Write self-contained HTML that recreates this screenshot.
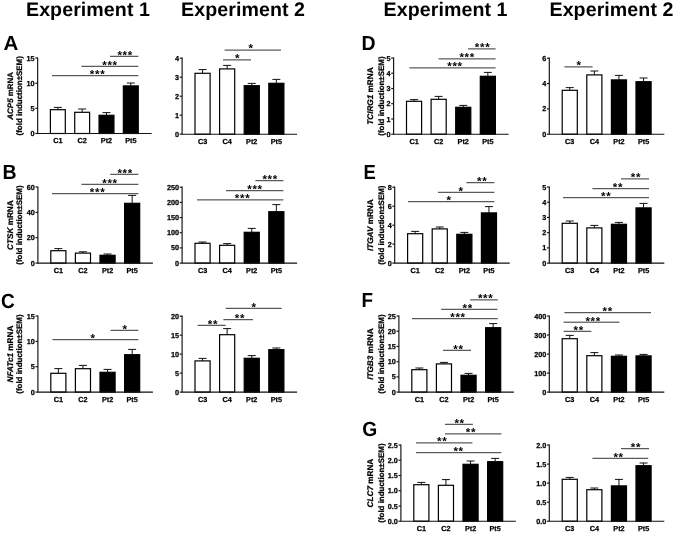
<!DOCTYPE html>
<html><head><meta charset="utf-8"><title>Figure</title>
<style>
html,body{margin:0;padding:0;background:#fff}
svg{display:block;filter:grayscale(1) blur(.35px)}
text{font-family:"Liberation Sans", sans-serif;font-weight:bold;fill:#000;text-rendering:geometricPrecision}
.t{font-size:7.25px;stroke:#000;stroke-width:.25px}
.yt{font-size:7.95px;stroke:#000;stroke-width:.25px}
.i{font-style:italic}
.e{text-anchor:end}
.m{text-anchor:middle}
.st{font-size:11.5px;letter-spacing:.7px}
.pl{font-size:20.5px}
.hd{font-size:19.6px;letter-spacing:.08px}
.ax{stroke:#111;stroke-width:1.15;fill:none}
.er{stroke:#111;stroke-width:1;fill:none}
.sg{stroke:#333;stroke-width:1;fill:none}
.bar{stroke:#000;stroke-width:1.2}
</style></head>
<body>
<svg width="675" height="533" viewBox="0 0 675 533">
<rect width="675" height="533" fill="#fff"/>
<path d="M57.85 109.7V107.4M53.85 107.4H61.85" class="er"/>
<rect x="50.40" y="109.7" width="14.9" height="23.8" fill="#fff" class="bar"/>
<text x="57.85" y="143.1" class="t m">C1</text>
<path d="M82.17 112.3V109.0M78.17 109.0H86.17" class="er"/>
<rect x="74.72" y="112.3" width="14.9" height="21.2" fill="#fff" class="bar"/>
<text x="82.17" y="143.1" class="t m">C2</text>
<path d="M106.49 115.3V112.6M102.49 112.6H110.49" class="er"/>
<rect x="99.04" y="115.3" width="14.9" height="18.2" fill="#000" class="bar"/>
<text x="106.49" y="143.1" class="t m">Pt2</text>
<path d="M130.81 85.9V83.0M126.81 83.0H134.81" class="er"/>
<rect x="123.36" y="85.9" width="14.9" height="47.6" fill="#000" class="bar"/>
<text x="130.81" y="143.1" class="t m">Pt5</text>
<path d="M37.66 57.4V133.5M37.06 133.5H151.6" class="ax"/>
<path d="M35.26 133.5H37.66" class="ax"/>
<text x="34.66" y="136.0" class="t e">0</text>
<path d="M35.26 108.3H37.66" class="ax"/>
<text x="34.66" y="110.8" class="t e">5</text>
<path d="M35.26 83.2H37.66" class="ax"/>
<text x="34.66" y="85.7" class="t e">10</text>
<path d="M35.26 58.0H37.66" class="ax"/>
<text x="34.66" y="60.5" class="t e">15</text>
<path d="M110.0 56.3H138.4" class="sg"/>
<text x="125.2" y="58.6" class="st m">***</text>
<path d="M81.4 66.3H138.4" class="sg"/>
<text x="110.0" y="68.6" class="st m">***</text>
<path d="M52.0 75.7H138.4" class="sg"/>
<text x="97.6" y="78.0" class="st m">***</text>
<text transform="translate(9.8 95.8) rotate(-90)" class="yt m" y="2.9" style="font-size:7.95px"><tspan class="i">ACP5</tspan> mRNA</text>
<text transform="translate(19.5 95.8) rotate(-90)" class="yt m" y="2.9">(fold induction±SEM)</text>
<path d="M202.55 73.3V69.6M198.55 69.6H206.55" class="er"/>
<rect x="195.00" y="73.3" width="15.1" height="60.9" fill="#fff" class="bar"/>
<text x="202.55" y="143.8" class="t m">C3</text>
<path d="M227.15 68.9V65.4M223.15 65.4H231.15" class="er"/>
<rect x="219.60" y="68.9" width="15.1" height="65.3" fill="#fff" class="bar"/>
<text x="227.15" y="143.8" class="t m">C4</text>
<path d="M251.75 85.7V83.4M247.75 83.4H255.75" class="er"/>
<rect x="244.20" y="85.7" width="15.1" height="48.5" fill="#000" class="bar"/>
<text x="251.75" y="143.8" class="t m">Pt2</text>
<path d="M276.35 83.3V79.4M272.35 79.4H280.35" class="er"/>
<rect x="268.80" y="83.3" width="15.1" height="50.9" fill="#000" class="bar"/>
<text x="276.35" y="143.8" class="t m">Pt5</text>
<path d="M182.10 57.6V134.2M181.50 134.2H297.1" class="ax"/>
<path d="M179.70 134.2H182.10" class="ax"/>
<text x="179.10" y="136.7" class="t e">0</text>
<path d="M179.70 115.2H182.10" class="ax"/>
<text x="179.10" y="117.7" class="t e">1</text>
<path d="M179.70 96.2H182.10" class="ax"/>
<text x="179.10" y="98.7" class="t e">2</text>
<path d="M179.70 77.2H182.10" class="ax"/>
<text x="179.10" y="79.7" class="t e">3</text>
<path d="M179.70 58.2H182.10" class="ax"/>
<text x="179.10" y="60.7" class="t e">4</text>
<path d="M224.6 50.1H281.0" class="sg"/>
<text x="251.2" y="52.4" class="st m">*</text>
<path d="M223.0 59.9H251.0" class="sg"/>
<text x="237.6" y="62.2" class="st m">*</text>
<path d="M414.05 101.3V99.6M410.05 99.6H418.05" class="er"/>
<rect x="406.50" y="101.3" width="15.1" height="32.9" fill="#fff" class="bar"/>
<text x="414.05" y="143.8" class="t m">C1</text>
<path d="M438.65 99.3V96.4M434.65 96.4H442.65" class="er"/>
<rect x="431.10" y="99.3" width="15.1" height="34.9" fill="#fff" class="bar"/>
<text x="438.65" y="143.8" class="t m">C2</text>
<path d="M463.25 107.3V105.4M459.25 105.4H467.25" class="er"/>
<rect x="455.70" y="107.3" width="15.1" height="26.9" fill="#000" class="bar"/>
<text x="463.25" y="143.8" class="t m">Pt2</text>
<path d="M487.85 76.3V72.4M483.85 72.4H491.85" class="er"/>
<rect x="480.30" y="76.3" width="15.1" height="57.9" fill="#000" class="bar"/>
<text x="487.85" y="143.8" class="t m">Pt5</text>
<path d="M393.60 57.4V134.2M393.00 134.2H508.6" class="ax"/>
<path d="M391.20 134.2H393.60" class="ax"/>
<text x="390.60" y="136.7" class="t e">0</text>
<path d="M391.20 119.0H393.60" class="ax"/>
<text x="390.60" y="121.5" class="t e">1</text>
<path d="M391.20 103.7H393.60" class="ax"/>
<text x="390.60" y="106.2" class="t e">2</text>
<path d="M391.20 88.5H393.60" class="ax"/>
<text x="390.60" y="91.0" class="t e">3</text>
<path d="M391.20 73.2H393.60" class="ax"/>
<text x="390.60" y="75.7" class="t e">4</text>
<path d="M391.20 58.0H393.60" class="ax"/>
<text x="390.60" y="60.5" class="t e">5</text>
<path d="M468.0 48.9H495.6" class="sg"/>
<text x="482.6" y="51.2" class="st m">***</text>
<path d="M438.6 58.9H495.6" class="sg"/>
<text x="467.2" y="61.2" class="st m">***</text>
<path d="M409.4 67.9H495.6" class="sg"/>
<text x="455.0" y="70.2" class="st m">***</text>
<text transform="translate(369.9 96.1) rotate(-90)" class="yt m" y="2.9" style="font-size:8.2px"><tspan class="i">TCIRG1</tspan> mRNA</text>
<text transform="translate(380.6 96.1) rotate(-90)" class="yt m" y="2.9">(fold induction±SEM)</text>
<path d="M569.75 90.3V87.6M565.75 87.6H573.75" class="er"/>
<rect x="562.20" y="90.3" width="15.1" height="43.9" fill="#fff" class="bar"/>
<text x="569.75" y="143.8" class="t m">C3</text>
<path d="M594.35 74.9V71.0M590.35 71.0H598.35" class="er"/>
<rect x="586.80" y="74.9" width="15.1" height="59.3" fill="#fff" class="bar"/>
<text x="594.35" y="143.8" class="t m">C4</text>
<path d="M618.95 79.9V75.4M614.95 75.4H622.95" class="er"/>
<rect x="611.40" y="79.9" width="15.1" height="54.3" fill="#000" class="bar"/>
<text x="618.95" y="143.8" class="t m">Pt2</text>
<path d="M643.55 81.7V78.0M639.55 78.0H647.55" class="er"/>
<rect x="636.00" y="81.7" width="15.1" height="52.5" fill="#000" class="bar"/>
<text x="643.55" y="143.8" class="t m">Pt5</text>
<path d="M549.30 57.6V134.2M548.70 134.2H664.3" class="ax"/>
<path d="M546.90 134.2H549.30" class="ax"/>
<text x="546.30" y="136.7" class="t e">0</text>
<path d="M546.90 108.9H549.30" class="ax"/>
<text x="546.30" y="111.4" class="t e">2</text>
<path d="M546.90 83.5H549.30" class="ax"/>
<text x="546.30" y="86.0" class="t e">4</text>
<path d="M546.90 58.2H549.30" class="ax"/>
<text x="546.30" y="60.7" class="t e">6</text>
<path d="M564.4 66.9H592.6" class="sg"/>
<text x="579.2" y="69.2" class="st m">*</text>
<path d="M58.35 250.7V248.6M54.35 248.6H62.35" class="er"/>
<rect x="50.80" y="250.7" width="15.1" height="12.4" fill="#fff" class="bar"/>
<text x="58.35" y="272.7" class="t m">C1</text>
<path d="M82.95 253.1V251.8M78.95 251.8H86.95" class="er"/>
<rect x="75.40" y="253.1" width="15.1" height="10.0" fill="#fff" class="bar"/>
<text x="82.95" y="272.7" class="t m">C2</text>
<path d="M107.55 255.3V254.0M103.55 254.0H111.55" class="er"/>
<rect x="100.00" y="255.3" width="15.1" height="7.8" fill="#000" class="bar"/>
<text x="107.55" y="272.7" class="t m">Pt2</text>
<path d="M132.15 203.3V195.4M128.15 195.4H136.15" class="er"/>
<rect x="124.60" y="203.3" width="15.1" height="59.8" fill="#000" class="bar"/>
<text x="132.15" y="272.7" class="t m">Pt5</text>
<path d="M37.90 186.4V263.1M37.30 263.1H152.9" class="ax"/>
<path d="M35.50 263.1H37.90" class="ax"/>
<text x="34.90" y="265.6" class="t e">0</text>
<path d="M35.50 237.7H37.90" class="ax"/>
<text x="34.90" y="240.2" class="t e">20</text>
<path d="M35.50 212.4H37.90" class="ax"/>
<text x="34.90" y="214.9" class="t e">40</text>
<path d="M35.50 187.0H37.90" class="ax"/>
<text x="34.90" y="189.5" class="t e">60</text>
<path d="M110.2 174.3H138.4" class="sg"/>
<text x="125.2" y="176.6" class="st m">***</text>
<path d="M81.4 184.3H138.4" class="sg"/>
<text x="110.0" y="186.6" class="st m">***</text>
<path d="M52.0 193.7H138.4" class="sg"/>
<text x="97.6" y="196.0" class="st m">***</text>
<text transform="translate(9.8 225.1) rotate(-90)" class="yt m" y="2.9" style="font-size:8.2px"><tspan class="i">CTSK</tspan> mRNA</text>
<text transform="translate(19.5 225.1) rotate(-90)" class="yt m" y="2.9">(fold induction±SEM)</text>
<path d="M202.55 243.3V242.0M198.55 242.0H206.55" class="er"/>
<rect x="195.00" y="243.3" width="15.1" height="19.8" fill="#fff" class="bar"/>
<text x="202.55" y="272.7" class="t m">C3</text>
<path d="M227.15 245.3V243.6M223.15 243.6H231.15" class="er"/>
<rect x="219.60" y="245.3" width="15.1" height="17.8" fill="#fff" class="bar"/>
<text x="227.15" y="272.7" class="t m">C4</text>
<path d="M251.75 232.3V228.4M247.75 228.4H255.75" class="er"/>
<rect x="244.20" y="232.3" width="15.1" height="30.8" fill="#000" class="bar"/>
<text x="251.75" y="272.7" class="t m">Pt2</text>
<path d="M276.35 211.7V204.6M272.35 204.6H280.35" class="er"/>
<rect x="268.80" y="211.7" width="15.1" height="51.4" fill="#000" class="bar"/>
<text x="276.35" y="272.7" class="t m">Pt5</text>
<path d="M182.10 186.6V263.1M181.50 263.1H297.1" class="ax"/>
<path d="M179.70 263.1H182.10" class="ax"/>
<text x="179.10" y="265.6" class="t e">0</text>
<path d="M179.70 247.9H182.10" class="ax"/>
<text x="179.10" y="250.4" class="t e">50</text>
<path d="M179.70 232.7H182.10" class="ax"/>
<text x="179.10" y="235.2" class="t e">100</text>
<path d="M179.70 217.6H182.10" class="ax"/>
<text x="179.10" y="220.1" class="t e">150</text>
<path d="M179.70 202.4H182.10" class="ax"/>
<text x="179.10" y="204.9" class="t e">200</text>
<path d="M179.70 187.2H182.10" class="ax"/>
<text x="179.10" y="189.7" class="t e">250</text>
<path d="M255.4 180.7H283.4" class="sg"/>
<text x="270.2" y="183.0" class="st m">***</text>
<path d="M226.0 190.7H283.4" class="sg"/>
<text x="255.0" y="193.0" class="st m">***</text>
<path d="M197.0 199.9H283.4" class="sg"/>
<text x="242.6" y="202.2" class="st m">***</text>
<path d="M415.15 233.7V231.4M411.15 231.4H419.15" class="er"/>
<rect x="407.60" y="233.7" width="15.1" height="29.4" fill="#fff" class="bar"/>
<text x="415.15" y="272.7" class="t m">C1</text>
<path d="M439.75 228.9V227.0M435.75 227.0H443.75" class="er"/>
<rect x="432.20" y="228.9" width="15.1" height="34.2" fill="#fff" class="bar"/>
<text x="439.75" y="272.7" class="t m">C2</text>
<path d="M464.35 234.3V232.4M460.35 232.4H468.35" class="er"/>
<rect x="456.80" y="234.3" width="15.1" height="28.8" fill="#000" class="bar"/>
<text x="464.35" y="272.7" class="t m">Pt2</text>
<path d="M488.95 212.9V206.6M484.95 206.6H492.95" class="er"/>
<rect x="481.40" y="212.9" width="15.1" height="50.2" fill="#000" class="bar"/>
<text x="488.95" y="272.7" class="t m">Pt5</text>
<path d="M394.70 186.6V263.1M394.10 263.1H509.7" class="ax"/>
<path d="M392.30 263.1H394.70" class="ax"/>
<text x="391.70" y="265.6" class="t e">0</text>
<path d="M392.30 244.1H394.70" class="ax"/>
<text x="391.70" y="246.6" class="t e">2</text>
<path d="M392.30 225.2H394.70" class="ax"/>
<text x="391.70" y="227.7" class="t e">4</text>
<path d="M392.30 206.2H394.70" class="ax"/>
<text x="391.70" y="208.7" class="t e">6</text>
<path d="M392.30 187.2H394.70" class="ax"/>
<text x="391.70" y="189.7" class="t e">8</text>
<path d="M466.4 182.7H494.4" class="sg"/>
<text x="482.2" y="185.0" class="st m">**</text>
<path d="M438.0 192.3H494.4" class="sg"/>
<text x="461.2" y="194.6" class="st m">*</text>
<path d="M408.0 201.7H494.4" class="sg"/>
<text x="449.2" y="204.0" class="st m">*</text>
<text transform="translate(369.9 225.2) rotate(-90)" class="yt m" y="2.9" style="font-size:8.2px"><tspan class="i">ITGAV</tspan> mRNA</text>
<text transform="translate(380.6 225.2) rotate(-90)" class="yt m" y="2.9">(fold induction±SEM)</text>
<path d="M569.75 223.3V221.0M565.75 221.0H573.75" class="er"/>
<rect x="562.20" y="223.3" width="15.1" height="39.8" fill="#fff" class="bar"/>
<text x="569.75" y="272.7" class="t m">C3</text>
<path d="M594.35 227.9V225.4M590.35 225.4H598.35" class="er"/>
<rect x="586.80" y="227.9" width="15.1" height="35.2" fill="#fff" class="bar"/>
<text x="594.35" y="272.7" class="t m">C4</text>
<path d="M618.95 224.3V222.4M614.95 222.4H622.95" class="er"/>
<rect x="611.40" y="224.3" width="15.1" height="38.8" fill="#000" class="bar"/>
<text x="618.95" y="272.7" class="t m">Pt2</text>
<path d="M643.55 207.9V203.4M639.55 203.4H647.55" class="er"/>
<rect x="636.00" y="207.9" width="15.1" height="55.2" fill="#000" class="bar"/>
<text x="643.55" y="272.7" class="t m">Pt5</text>
<path d="M549.30 186.4V263.1M548.70 263.1H664.3" class="ax"/>
<path d="M546.90 263.1H549.30" class="ax"/>
<text x="546.30" y="265.6" class="t e">0</text>
<path d="M546.90 247.9H549.30" class="ax"/>
<text x="546.30" y="250.4" class="t e">1</text>
<path d="M546.90 232.7H549.30" class="ax"/>
<text x="546.30" y="235.2" class="t e">2</text>
<path d="M546.90 217.4H549.30" class="ax"/>
<text x="546.30" y="219.9" class="t e">3</text>
<path d="M546.90 202.2H549.30" class="ax"/>
<text x="546.30" y="204.7" class="t e">4</text>
<path d="M546.90 187.0H549.30" class="ax"/>
<text x="546.30" y="189.5" class="t e">5</text>
<path d="M621.0 178.9H649.0" class="sg"/>
<text x="636.0" y="181.2" class="st m">**</text>
<path d="M592.4 188.7H649.0" class="sg"/>
<text x="618.0" y="191.0" class="st m">**</text>
<path d="M563.0 197.7H649.0" class="sg"/>
<text x="606.2" y="200.0" class="st m">**</text>
<path d="M58.35 373.3V368.6M54.35 368.6H62.35" class="er"/>
<rect x="50.80" y="373.3" width="15.1" height="18.8" fill="#fff" class="bar"/>
<text x="58.35" y="401.7" class="t m">C1</text>
<path d="M82.95 368.7V365.4M78.95 365.4H86.95" class="er"/>
<rect x="75.40" y="368.7" width="15.1" height="23.4" fill="#fff" class="bar"/>
<text x="82.95" y="401.7" class="t m">C2</text>
<path d="M107.55 372.3V369.4M103.55 369.4H111.55" class="er"/>
<rect x="100.00" y="372.3" width="15.1" height="19.8" fill="#000" class="bar"/>
<text x="107.55" y="401.7" class="t m">Pt2</text>
<path d="M132.15 354.7V349.4M128.15 349.4H136.15" class="er"/>
<rect x="124.60" y="354.7" width="15.1" height="37.4" fill="#000" class="bar"/>
<text x="132.15" y="401.7" class="t m">Pt5</text>
<path d="M37.90 315.4V392.1M37.30 392.1H152.9" class="ax"/>
<path d="M35.50 392.1H37.90" class="ax"/>
<text x="34.90" y="394.6" class="t e">0</text>
<path d="M35.50 366.7H37.90" class="ax"/>
<text x="34.90" y="369.2" class="t e">5</text>
<path d="M35.50 341.4H37.90" class="ax"/>
<text x="34.90" y="343.9" class="t e">10</text>
<path d="M35.50 316.0H37.90" class="ax"/>
<text x="34.90" y="318.5" class="t e">15</text>
<path d="M110.5 330.3H138.4" class="sg"/>
<text x="125.2" y="332.6" class="st m">*</text>
<path d="M52.4 339.7H138.4" class="sg"/>
<text x="93.2" y="342.0" class="st m">*</text>
<text transform="translate(9.8 354.1) rotate(-90)" class="yt m" y="2.9" style="font-size:8.2px"><tspan class="i">NFATc1</tspan> mRNA</text>
<text transform="translate(19.5 354.1) rotate(-90)" class="yt m" y="2.9">(fold induction±SEM)</text>
<path d="M202.55 360.9V358.4M198.55 358.4H206.55" class="er"/>
<rect x="195.00" y="360.9" width="15.1" height="31.2" fill="#fff" class="bar"/>
<text x="202.55" y="401.7" class="t m">C3</text>
<path d="M227.15 334.7V328.6M223.15 328.6H231.15" class="er"/>
<rect x="219.60" y="334.7" width="15.1" height="57.4" fill="#fff" class="bar"/>
<text x="227.15" y="401.7" class="t m">C4</text>
<path d="M251.75 358.3V355.6M247.75 355.6H255.75" class="er"/>
<rect x="244.20" y="358.3" width="15.1" height="33.8" fill="#000" class="bar"/>
<text x="251.75" y="401.7" class="t m">Pt2</text>
<path d="M276.35 349.7V348.0M272.35 348.0H280.35" class="er"/>
<rect x="268.80" y="349.7" width="15.1" height="42.4" fill="#000" class="bar"/>
<text x="276.35" y="401.7" class="t m">Pt5</text>
<path d="M182.10 315.6V392.1M181.50 392.1H297.1" class="ax"/>
<path d="M179.70 392.1H182.10" class="ax"/>
<text x="179.10" y="394.6" class="t e">0</text>
<path d="M179.70 373.1H182.10" class="ax"/>
<text x="179.10" y="375.6" class="t e">5</text>
<path d="M179.70 354.1H182.10" class="ax"/>
<text x="179.10" y="356.6" class="t e">10</text>
<path d="M179.70 335.2H182.10" class="ax"/>
<text x="179.10" y="337.7" class="t e">15</text>
<path d="M179.70 316.2H182.10" class="ax"/>
<text x="179.10" y="318.7" class="t e">20</text>
<path d="M225.6 308.3H281.6" class="sg"/>
<text x="254.2" y="310.6" class="st m">*</text>
<path d="M223.4 319.7H253.0" class="sg"/>
<text x="240.0" y="322.0" class="st m">**</text>
<path d="M197.6 325.3H225.6" class="sg"/>
<text x="213.0" y="327.6" class="st m">**</text>
<path d="M419.35 369.7V368.0M415.35 368.0H423.35" class="er"/>
<rect x="411.80" y="369.7" width="15.1" height="22.4" fill="#fff" class="bar"/>
<text x="419.35" y="401.7" class="t m">C1</text>
<path d="M443.95 363.9V362.4M439.95 362.4H447.95" class="er"/>
<rect x="436.40" y="363.9" width="15.1" height="28.2" fill="#fff" class="bar"/>
<text x="443.95" y="401.7" class="t m">C2</text>
<path d="M468.55 375.3V373.4M464.55 373.4H472.55" class="er"/>
<rect x="461.00" y="375.3" width="15.1" height="16.8" fill="#000" class="bar"/>
<text x="468.55" y="401.7" class="t m">Pt2</text>
<path d="M493.15 327.7V323.6M489.15 323.6H497.15" class="er"/>
<rect x="485.60" y="327.7" width="15.1" height="64.4" fill="#000" class="bar"/>
<text x="493.15" y="401.7" class="t m">Pt5</text>
<path d="M398.90 315.4V392.1M398.30 392.1H513.9" class="ax"/>
<path d="M396.50 392.1H398.90" class="ax"/>
<text x="395.90" y="394.6" class="t e">0</text>
<path d="M396.50 376.9H398.90" class="ax"/>
<text x="395.90" y="379.4" class="t e">5</text>
<path d="M396.50 361.7H398.90" class="ax"/>
<text x="395.90" y="364.2" class="t e">10</text>
<path d="M396.50 346.4H398.90" class="ax"/>
<text x="395.90" y="348.9" class="t e">15</text>
<path d="M396.50 331.2H398.90" class="ax"/>
<text x="395.90" y="333.7" class="t e">20</text>
<path d="M396.50 316.0H398.90" class="ax"/>
<text x="395.90" y="318.5" class="t e">25</text>
<path d="M470.2 299.9H497.8" class="sg"/>
<text x="485.7" y="302.2" class="st m">***</text>
<path d="M441.2 309.3H497.4" class="sg"/>
<text x="467.7" y="311.6" class="st m">**</text>
<path d="M412.0 318.7H497.8" class="sg"/>
<text x="458.0" y="321.0" class="st m">***</text>
<path d="M443.0 350.3H471.0" class="sg"/>
<text x="458.5" y="352.6" class="st m">**</text>
<text transform="translate(369.9 354.1) rotate(-90)" class="yt m" y="2.9" style="font-size:8.2px"><tspan class="i">ITGB3</tspan> mRNA</text>
<text transform="translate(380.6 354.1) rotate(-90)" class="yt m" y="2.9">(fold induction±SEM)</text>
<path d="M569.75 338.7V335.4M565.75 335.4H573.75" class="er"/>
<rect x="562.20" y="338.7" width="15.1" height="53.4" fill="#fff" class="bar"/>
<text x="569.75" y="401.7" class="t m">C3</text>
<path d="M594.35 355.7V352.6M590.35 352.6H598.35" class="er"/>
<rect x="586.80" y="355.7" width="15.1" height="36.4" fill="#fff" class="bar"/>
<text x="594.35" y="401.7" class="t m">C4</text>
<path d="M618.95 356.3V355.0M614.95 355.0H622.95" class="er"/>
<rect x="611.40" y="356.3" width="15.1" height="35.8" fill="#000" class="bar"/>
<text x="618.95" y="401.7" class="t m">Pt2</text>
<path d="M643.55 355.9V354.4M639.55 354.4H647.55" class="er"/>
<rect x="636.00" y="355.9" width="15.1" height="36.2" fill="#000" class="bar"/>
<text x="643.55" y="401.7" class="t m">Pt5</text>
<path d="M549.30 315.4V392.1M548.70 392.1H664.3" class="ax"/>
<path d="M546.90 392.1H549.30" class="ax"/>
<text x="546.30" y="394.6" class="t e">0</text>
<path d="M546.90 373.1H549.30" class="ax"/>
<text x="546.30" y="375.6" class="t e">100</text>
<path d="M546.90 354.1H549.30" class="ax"/>
<text x="546.30" y="356.6" class="t e">200</text>
<path d="M546.90 335.0H549.30" class="ax"/>
<text x="546.30" y="337.5" class="t e">300</text>
<path d="M546.90 316.0H549.30" class="ax"/>
<text x="546.30" y="318.5" class="t e">400</text>
<path d="M564.4 312.7H651.0" class="sg"/>
<text x="607.8" y="315.0" class="st m">**</text>
<path d="M563.6 322.2H619.4" class="sg"/>
<text x="593.2" y="324.5" class="st m">***</text>
<path d="M563.6 331.3H591.4" class="sg"/>
<text x="578.8" y="333.6" class="st m">**</text>
<path d="M421.35 484.7V482.4M417.35 482.4H425.35" class="er"/>
<rect x="413.80" y="484.7" width="15.1" height="36.5" fill="#fff" class="bar"/>
<text x="421.35" y="530.8" class="t m">C1</text>
<path d="M445.95 485.3V479.6M441.95 479.6H449.95" class="er"/>
<rect x="438.40" y="485.3" width="15.1" height="35.9" fill="#fff" class="bar"/>
<text x="445.95" y="530.8" class="t m">C2</text>
<path d="M470.55 464.3V461.0M466.55 461.0H474.55" class="er"/>
<rect x="463.00" y="464.3" width="15.1" height="56.9" fill="#000" class="bar"/>
<text x="470.55" y="530.8" class="t m">Pt2</text>
<path d="M495.15 461.7V458.4M491.15 458.4H499.15" class="er"/>
<rect x="487.60" y="461.7" width="15.1" height="59.5" fill="#000" class="bar"/>
<text x="495.15" y="530.8" class="t m">Pt5</text>
<path d="M400.90 444.4V521.2M400.30 521.2H515.9" class="ax"/>
<path d="M398.50 521.2H400.90" class="ax"/>
<text x="397.90" y="523.7" class="t e">0.0</text>
<path d="M398.50 506.0H400.90" class="ax"/>
<text x="397.90" y="508.5" class="t e">0.5</text>
<path d="M398.50 490.7H400.90" class="ax"/>
<text x="397.90" y="493.2" class="t e">1.0</text>
<path d="M398.50 475.5H400.90" class="ax"/>
<text x="397.90" y="478.0" class="t e">1.5</text>
<path d="M398.50 460.2H400.90" class="ax"/>
<text x="397.90" y="462.7" class="t e">2.0</text>
<path d="M398.50 445.0H400.90" class="ax"/>
<text x="397.90" y="447.5" class="t e">2.5</text>
<path d="M445.0 424.3H472.9" class="sg"/>
<text x="459.6" y="426.6" class="st m">**</text>
<path d="M445.0 433.9H501.4" class="sg"/>
<text x="471.0" y="436.2" class="st m">**</text>
<path d="M416.0 442.9H472.4" class="sg"/>
<text x="442.2" y="445.2" class="st m">**</text>
<path d="M416.0 452.7H501.4" class="sg"/>
<text x="458.6" y="455.0" class="st m">**</text>
<text transform="translate(369.9 483.1) rotate(-90)" class="yt m" y="2.9" style="font-size:8.2px"><tspan class="i">CLC7</tspan> mRNA</text>
<text transform="translate(380.6 483.1) rotate(-90)" class="yt m" y="2.9">(fold induction±SEM)</text>
<path d="M569.75 479.3V477.4M565.75 477.4H573.75" class="er"/>
<rect x="562.20" y="479.3" width="15.1" height="41.9" fill="#fff" class="bar"/>
<text x="569.75" y="530.8" class="t m">C3</text>
<path d="M594.35 489.7V488.0M590.35 488.0H598.35" class="er"/>
<rect x="586.80" y="489.7" width="15.1" height="31.5" fill="#fff" class="bar"/>
<text x="594.35" y="530.8" class="t m">C4</text>
<path d="M618.95 485.9V479.4M614.95 479.4H622.95" class="er"/>
<rect x="611.40" y="485.9" width="15.1" height="35.3" fill="#000" class="bar"/>
<text x="618.95" y="530.8" class="t m">Pt2</text>
<path d="M643.55 465.7V463.0M639.55 463.0H647.55" class="er"/>
<rect x="636.00" y="465.7" width="15.1" height="55.5" fill="#000" class="bar"/>
<text x="643.55" y="530.8" class="t m">Pt5</text>
<path d="M549.30 444.4V521.2M548.70 521.2H664.3" class="ax"/>
<path d="M546.90 521.2H549.30" class="ax"/>
<text x="546.30" y="523.7" class="t e">0.0</text>
<path d="M546.90 502.2H549.30" class="ax"/>
<text x="546.30" y="504.7" class="t e">0.5</text>
<path d="M546.90 483.1H549.30" class="ax"/>
<text x="546.30" y="485.6" class="t e">1.0</text>
<path d="M546.90 464.1H549.30" class="ax"/>
<text x="546.30" y="466.6" class="t e">1.5</text>
<path d="M546.90 445.0H549.30" class="ax"/>
<text x="546.30" y="447.5" class="t e">2.0</text>
<path d="M621.0 448.7H649.0" class="sg"/>
<text x="636.0" y="451.0" class="st m">**</text>
<path d="M592.4 458.3H648.2" class="sg"/>
<text x="618.6" y="460.6" class="st m">**</text>
<text transform="translate(3.4 49.9) scale(1.0 1)" class="pl">A</text>
<text transform="translate(2.4 178.9) scale(0.95 1)" class="pl">B</text>
<text transform="translate(0.9 307.5) scale(0.93 1)" class="pl">C</text>
<text transform="translate(361.4 49.8) scale(0.95 1)" class="pl">D</text>
<text transform="translate(363.4 178.9) scale(0.9 1)" class="pl">E</text>
<text transform="translate(361.45 307.3) scale(0.92 1)" class="pl">F</text>
<text transform="translate(362.25 436.3) scale(0.94 1)" class="pl">G</text>
<text x="88" y="15.6" class="hd m">Experiment 1</text>
<text x="243.1" y="15.6" class="hd m">Experiment 2</text>
<text x="445.6" y="15.6" class="hd m">Experiment 1</text>
<text x="611.5" y="15.6" class="hd m">Experiment 2</text>
</svg>
</body></html>
